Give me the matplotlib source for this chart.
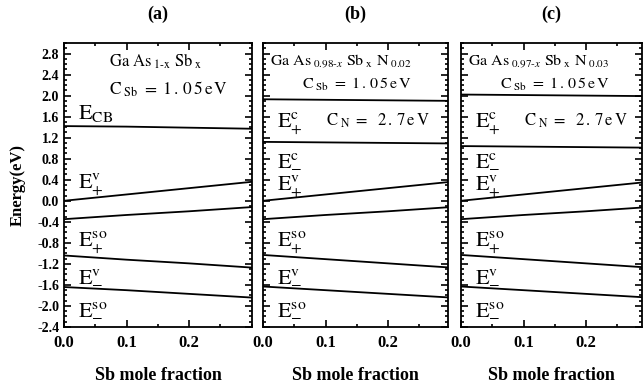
import matplotlib
matplotlib.use("Agg")
import matplotlib.pyplot as plt
from matplotlib.ticker import MultipleLocator

plt.rcParams['font.family'] = ['Liberation Serif', 'DejaVu Serif']
plt.rcParams['mathtext.fontset'] = 'stix'

# Sb mole fraction
x = [0.0, 0.1, 0.2, 0.3]
xticks = [0.0, 0.1, 0.2]
xtick_labels = ['0.0', '0.1', '0.2']
yticks = [-2.4, -2.0, -1.6, -1.2, -0.8, -0.4, 0.0, 0.4, 0.8, 1.2, 1.6, 2.0, 2.4, 2.8]
ytick_labels = ['-2.4', '-2.0', '-1.6', '-1.2', '-0.8', '-0.4', '0.0',
                '0.4', '0.8', '1.2', '1.6', '2.0', '2.4', '2.8']

# band edges (eV), panel (a) GaAsSb
a_ecb = [1.42, 1.41, 1.39, 1.37]
a_evp = [0.00, 0.12, 0.24, 0.36]
a_esop = [-0.35, -0.27, -0.20, -0.12]
a_evm = [-1.04, -1.12, -1.19, -1.27]
a_esom = [-1.64, -1.70, -1.77, -1.84]

# panel (b) GaAsSbN, N = 0.02
b_ecp = [1.93, 1.92, 1.91, 1.90]
b_ecm = [1.12, 1.11, 1.10, 1.09]
b_evp = [0.00, 0.12, 0.24, 0.36]
b_esop = [-0.35, -0.27, -0.20, -0.12]
b_evm = [-1.03, -1.11, -1.19, -1.27]
b_esom = [-1.63, -1.70, -1.77, -1.84]

# panel (c) GaAsSbN, N = 0.03
c_ecp = [2.02, 2.01, 2.00, 1.99]
c_ecm = [1.04, 1.03, 1.02, 1.01]
c_evp = [0.00, 0.12, 0.24, 0.36]
c_esop = [-0.35, -0.27, -0.20, -0.12]
c_evm = [-1.03, -1.11, -1.19, -1.27]
c_esom = [-1.63, -1.70, -1.77, -1.84]

W, H = 644, 387
fig = plt.figure(figsize=(W / 100, H / 100), dpi=100)

def make_ax(left, right):
    ax = fig.add_axes([left / W, 1 - 327 / H, (right - left) / W, 284 / H])
    ax.set_xlim(0, (right - left) / 625.0)
    ax.set_ylim(-2.4, 3.0)
    ax.xaxis.set_minor_locator(MultipleLocator(0.05))
    ax.yaxis.set_minor_locator(MultipleLocator(0.1))
    ax.set_yticks(yticks)
    ax.tick_params(which='both', direction='in', top=True, right=True, width=1.2)
    ax.tick_params(which='major', length=5)
    ax.tick_params(which='minor', length=2.5)
    ax.tick_params(axis='x', labelsize=12, pad=6)
    ax.tick_params(axis='y', labelsize=10)
    ax.set_xticks(xticks)
    ax.set_xticklabels(xtick_labels, fontweight='bold')
    for s in ax.spines.values():
        s.set_linewidth(1.3)
    ax.set_xlabel('Sb mole fraction', fontsize=13, fontweight='bold', labelpad=11)
    return ax

ax1 = make_ax(64, 252)
ax2 = make_ax(263, 448)
ax3 = make_ax(461, 642)

lw = 1.3
for y in [a_ecb, a_evp, a_esop, a_evm, a_esom]:
    ax1.plot(x, y, color='black', lw=lw)
for y in [b_ecp, b_ecm, b_evp, b_esop, b_evm, b_esom]:
    ax2.plot(x, y, color='black', lw=lw)
for y in [c_ecp, c_ecm, c_evp, c_esop, c_evm, c_esom]:
    ax3.plot(x, y, color='black', lw=lw)

ax1.set_yticklabels(ytick_labels, fontweight='bold')
ax1.set_ylabel('Energy(eV)', fontsize=12, fontweight='bold', labelpad=8)
ax2.set_yticklabels([])
ax3.set_yticklabels([])

for ax, t in zip([ax1, ax2, ax3], ['(a)', '(b)', '(c)']):
    ax.set_title(t, fontsize=13, fontweight='bold', pad=17)

es = 16
# panel (a)
ax1.text(0.072, 2.55, r'$\mathrm{Ga\ As}_{\ \text{1-x}}\ \mathrm{Sb}_{\ \mathrm{x}}$', fontsize=12)
ax1.text(0.072, 2.02, r'$\mathrm{C}_{\ \mathrm{Sb}}\mathrm{\ =\ 1\,.\,0\,5\,e\,V}$', fontsize=12.5)
ax1.text(0.022, 1.55, r'$\mathrm{E}_{\mathrm{CB}}$', fontsize=es)
ax1.text(0.022, 0.22, r'$\mathrm{E}_{+}^{\mathrm{v}}$', fontsize=es)
ax1.text(0.022, -0.88, r'$\mathrm{E}_{+}^{\mathrm{so}}$', fontsize=es)
ax1.text(0.022, -1.52, r'$\mathrm{E}_{-}^{\mathrm{v}}$', fontsize=es)
ax1.text(0.022, -2.15, r'$\mathrm{E}_{-}^{\mathrm{so}}$', fontsize=es)

# panels (b) and (c)
for ax, comp in [(ax2, (r'0.98\text{-}x', '0.02')), (ax3, (r'0.97\text{-}x', '0.03'))]:
    ax.text(0.012, 2.58, r'$\mathrm{Ga\ As}_{\ ' + comp[0] + r'}\ \mathrm{Sb}_{\ \mathrm{x}}\ \mathrm{N}_{\ ' + comp[1] + '}$',
            fontsize=11.5)
    ax.text(0.063, 2.12, r'$\mathrm{C}_{\ \mathrm{Sb}}\mathrm{\ =\ 1\,.\,0\,5\,e\,V}$', fontsize=11.5)
    ax.text(0.022, 1.38, r'$\mathrm{E}_{+}^{\mathrm{c}}$', fontsize=es)
    ax.text(0.1, 1.42, r'$\mathrm{C}_{\ \mathrm{N}}\mathrm{\ =\ \ 2\,.\,7\,e\,V}$', fontsize=12)
    ax.text(0.022, 0.68, r'$\mathrm{E}_{-}^{\mathrm{c}}$', fontsize=es)
    ax.text(0.022, 0.18, r'$\mathrm{E}_{+}^{\mathrm{v}}$', fontsize=es)
    ax.text(0.022, -0.88, r'$\mathrm{E}_{+}^{\mathrm{so}}$', fontsize=es)
    ax.text(0.022, -1.52, r'$\mathrm{E}_{-}^{\mathrm{v}}$', fontsize=es)
    ax.text(0.022, -2.15, r'$\mathrm{E}_{-}^{\mathrm{so}}$', fontsize=es)

fig.savefig('out.png', dpi=100)
